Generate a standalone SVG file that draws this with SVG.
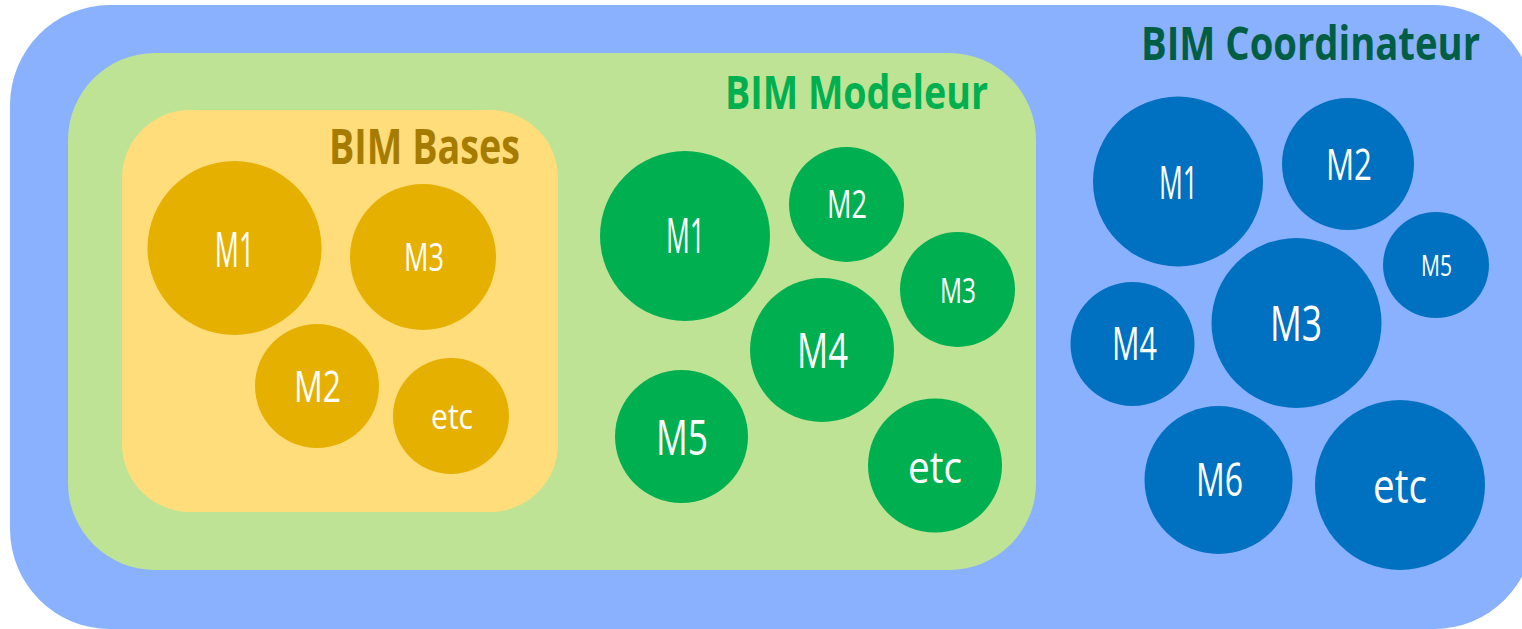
<svg xmlns="http://www.w3.org/2000/svg" width="1522" height="629" viewBox="0 0 1522 629">
  <style>
    .title { font-family: "Open Sans", "Liberation Sans", sans-serif; font-weight: 700; text-anchor: middle; }
    .lbl { font-family: "Open Sans", "Liberation Sans", sans-serif; font-weight: 400; fill: #ffffff; text-anchor: middle; }
    .cy { fill: #E6B000; }
    .cg { fill: #00B050; }
    .cb { fill: #0070C0; }
  </style>
  <rect width="1522" height="629" fill="#ffffff"/>
  <g id="coordinateur">
    <rect x="10" y="5" width="1524" height="624" rx="100" ry="100" fill="#8AB1FD"/>
    <text class="title" x="1310.5" y="60" font-size="46" fill="#005E44" textLength="339" lengthAdjust="spacingAndGlyphs">BIM Coordinateur</text>
  </g>
  <g id="modeleur">
    <rect x="68" y="53" width="968" height="517" rx="87" ry="87" fill="#BFE394"/>
    <text class="title" x="856.5" y="109" font-size="47" fill="#00B050" textLength="263" lengthAdjust="spacingAndGlyphs">BIM Modeleur</text>
  </g>
  <g id="bases">
    <rect x="122" y="110" width="436" height="402" rx="68" ry="68" fill="#FFDD7B"/>
    <text class="title" x="424.5" y="164" font-size="48" fill="#A67C00" textLength="191" lengthAdjust="spacingAndGlyphs">BIM Bases</text>
  </g>
  <g id="connectors"/>

  <!-- BIM Bases modules -->
  <g id="bases-m1"><circle class="cy" cx="234.5" cy="248" r="87"/><text class="lbl" x="234.5" y="267" font-size="49" textLength="39.5" lengthAdjust="spacingAndGlyphs">M1</text></g>
  <g id="bases-m3"><circle class="cy" cx="423" cy="257" r="73"/><text class="lbl" x="424" y="271" font-size="38" textLength="40" lengthAdjust="spacingAndGlyphs">M3</text></g>
  <g id="bases-m2"><circle class="cy" cx="317" cy="386" r="62"/><text class="lbl" x="317.5" y="402" font-size="43" textLength="47" lengthAdjust="spacingAndGlyphs">M2</text></g>
  <g id="bases-etc"><circle class="cy" cx="451" cy="416" r="58"/><text class="lbl" x="452" y="429" font-size="34" textLength="42" lengthAdjust="spacingAndGlyphs">etc</text></g>

  <!-- BIM Modeleur modules -->
  <g id="mod-m1"><circle class="cg" cx="685" cy="236" r="85"/><text class="lbl" x="685.5" y="253" font-size="49" textLength="39" lengthAdjust="spacingAndGlyphs">M1</text></g>
  <g id="mod-m2"><circle class="cg" cx="846.5" cy="204.5" r="57.5"/><text class="lbl" x="847" y="218" font-size="38" textLength="40" lengthAdjust="spacingAndGlyphs">M2</text></g>
  <g id="mod-m3"><circle class="cg" cx="957.5" cy="289.5" r="57.5"/><text class="lbl" x="958" y="303" font-size="35" textLength="36" lengthAdjust="spacingAndGlyphs">M3</text></g>
  <g id="mod-m4"><circle class="cg" cx="822" cy="350" r="72"/><text class="lbl" x="822.5" y="368" font-size="50" textLength="51" lengthAdjust="spacingAndGlyphs">M4</text></g>
  <g id="mod-m5"><circle class="cg" cx="681.5" cy="436.5" r="66.5"/><text class="lbl" x="682" y="455" font-size="50" textLength="52" lengthAdjust="spacingAndGlyphs">M5</text></g>
  <g id="mod-etc"><circle class="cg" cx="935" cy="465.5" r="67"/><text class="lbl" x="935" y="483" font-size="43" textLength="54" lengthAdjust="spacingAndGlyphs">etc</text></g>

  <!-- BIM Coordinateur modules -->
  <g id="coord-m1"><circle class="cb" cx="1178" cy="181.5" r="85"/><text class="lbl" x="1178.5" y="199" font-size="46" textLength="39" lengthAdjust="spacingAndGlyphs">M1</text></g>
  <g id="coord-m2"><circle class="cb" cx="1348" cy="164" r="66"/><text class="lbl" x="1349" y="180" font-size="43" textLength="46" lengthAdjust="spacingAndGlyphs">M2</text></g>
  <g id="coord-m5"><circle class="cb" cx="1436" cy="265" r="53"/><text class="lbl" x="1436.5" y="276" font-size="29" textLength="31" lengthAdjust="spacingAndGlyphs">M5</text></g>
  <g id="coord-m3"><circle class="cb" cx="1296.5" cy="323" r="85"/><text class="lbl" x="1296" y="341" font-size="49" textLength="52" lengthAdjust="spacingAndGlyphs">M3</text></g>
  <g id="coord-m4"><circle class="cb" cx="1132.5" cy="344" r="62"/><text class="lbl" x="1134.5" y="360" font-size="45" textLength="45" lengthAdjust="spacingAndGlyphs">M4</text></g>
  <g id="coord-m6"><circle class="cb" cx="1218.5" cy="480" r="74"/><text class="lbl" x="1219.5" y="496" font-size="45" textLength="47" lengthAdjust="spacingAndGlyphs">M6</text></g>
  <g id="coord-etc"><circle class="cb" cx="1400" cy="485" r="85"/><text class="lbl" x="1400" y="503" font-size="47" textLength="54" lengthAdjust="spacingAndGlyphs">etc</text></g>
</svg>
